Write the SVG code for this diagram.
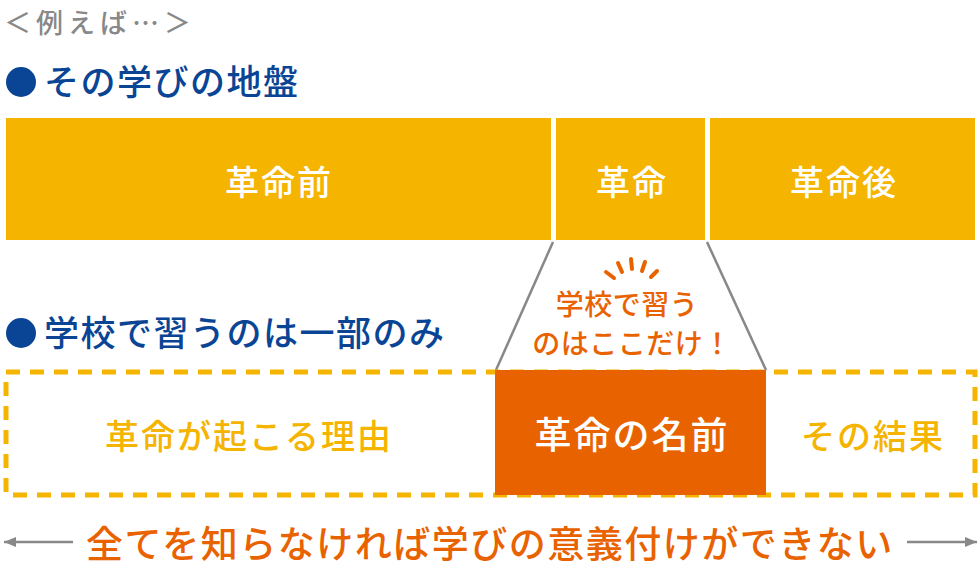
<svg xmlns="http://www.w3.org/2000/svg" width="980" height="575" viewBox="0 0 980 575">
<style>
text{font-family:"Noto Sans CJK JP","Noto Sans",sans-serif;font-weight:500;}
.bar{fill:#f5b400;}
.bt{fill:#fff;font-size:34px;letter-spacing:2px;text-anchor:middle;}
.head{fill:#0a4595;font-size:35px;letter-spacing:1.5px;}
.yt{fill:#f5b400;font-size:34px;letter-spacing:2px;text-anchor:middle;}
.gl{stroke:#888;stroke-width:2.5;fill:none;}
.ray{stroke:#e96200;stroke-width:4;stroke-linecap:round;}
</style>
<defs>
<marker id="ah" markerWidth="12" markerHeight="10" refX="12" refY="5" orient="auto" markerUnits="userSpaceOnUse" viewBox="0 0 12 10">
<path d="M0,0 L12,5 L0,10 Z" fill="#888"/>
</marker>
</defs>
<rect width="980" height="575" fill="#fff"/>
<text x="4" y="33" font-size="27" letter-spacing="5" fill="#888" font-weight="400">＜例えば…＞</text>
<g id="h1"><circle cx="21" cy="82" r="15" fill="#0a4595"/><text x="44" y="95" class="head">その学びの地盤</text></g>
<g id="pre"><rect class="bar" x="6" y="118" width="545" height="122"/><text x="279" y="195" class="bt">革命前</text></g>
<g id="rev"><rect class="bar" x="556" y="118" width="149" height="122"/><text x="632" y="195" class="bt">革命</text></g>
<g id="post"><rect class="bar" x="710" y="118" width="265" height="122"/><text x="844" y="195" class="bt">革命後</text></g>
<g id="h2"><circle cx="21" cy="333" r="15" fill="#0a4595"/><text x="44" y="346" class="head">学校で習うのは一部のみ</text></g>
<g id="connectors">
<line class="gl" x1="553" y1="242" x2="496" y2="370"/>
<line class="gl" x1="707" y1="242" x2="766" y2="370"/>
<line class="gl" x1="73" y1="542" x2="4" y2="542" marker-end="url(#ah)"/>
<line class="gl" x1="907" y1="542" x2="977" y2="542" marker-end="url(#ah)"/>
</g>
<g id="dashed"><rect x="6" y="372" width="969" height="123" fill="none" stroke="#f5b400" stroke-width="5" stroke-dasharray="14 10"/></g>
<g id="reason"><text x="249" y="449" class="yt">革命が起こる理由</text></g>
<g id="name"><rect x="495" y="370" width="271" height="125" fill="#e96200"/><text x="632" y="449" class="bt" style="font-size:37px">革命の名前</text></g>
<g id="result"><text x="873" y="449" class="yt">その結果</text></g>
<g id="callout">
<line class="ray" x1="606" y1="272" x2="614" y2="278"/>
<line class="ray" x1="618" y1="263" x2="622" y2="272"/>
<line class="ray" x1="631" y1="259" x2="632" y2="269"/>
<line class="ray" x1="645" y1="262" x2="642" y2="271"/>
<line class="ray" x1="657" y1="271" x2="651" y2="277"/>
<text x="627" y="315" font-size="28" letter-spacing="0.5" fill="#e96200" text-anchor="middle">学校で習う</text>
<text x="632" y="354" font-size="28" letter-spacing="0.5" fill="#e96200" text-anchor="middle">のはここだけ！</text>
</g>
<text x="490" y="558" font-size="37" letter-spacing="1.5" fill="#e96200" text-anchor="middle">全てを知らなければ学びの意義付けができない</text>
</svg>
